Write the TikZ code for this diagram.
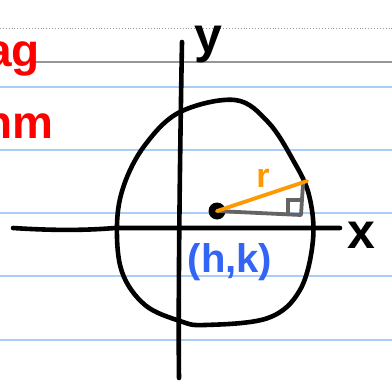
\documentclass[tikz,border=0pt]{standalone}
\usepackage{fontspec}
\setmainfont{Liberation Sans}
\begin{document}
\begin{tikzpicture}[x=1pt,y=-1pt,
  ink/.style={line width=4.6pt,line cap=round,line join=round,black},
  ruleblue/.style={line width=1.2pt,color={rgb,255:red,170;green,205;blue,245}},
  rulegray/.style={line width=1.3pt,color={rgb,255:red,150;green,150;blue,150}},
  dotgray/.style={line width=0.9pt,dotted,color={rgb,255:red,150;green,150;blue,150}},
  hand/.style={inner sep=0pt,font=\bfseries\fontsize{44}{44}\selectfont}]
\useasboundingbox (0,0) rectangle (392,392);
\clip (0,0) rectangle (392,392);
\fill[white] (0,0) rectangle (392,392);
% ruled paper
\draw[dotgray] (0,28) -- (392,28);
\draw[rulegray] (30,62) -- (392,62);
\foreach \yy in {87,150,213,276,340} \draw[ruleblue] (0,\yy) -- (392,\yy);
% red margin text
\node[hand,red,anchor=base west,font=\bfseries\fontsize{46}{46}\selectfont] (ag) at (-14,66) {ag};
\node[hand,red,anchor=base west,font=\bfseries\fontsize{46}{46}\selectfont] (hm) at (-16,138) {hm};
% axes
\coordinate (yt) at (182,42);
\coordinate (yb) at (179,378);
\coordinate (xl) at (13,228);
\coordinate (xr) at (340,228);
\draw[ink] (yt) .. controls (180,150) and (178,300) .. (yb);
\draw[ink] (xl) .. controls (60,231) and (90,230) .. (115,228) -- (xr);
\node[hand,font=\bfseries\fontsize{50}{50}\selectfont] (ylab) at (208,44) {y};
\node[hand,font=\bfseries\fontsize{50}{50}\selectfont] (xlab) at (361,235) {x};
% circle
\draw[ink] plot[smooth cycle,tension=0.6] coordinates {
 (235,100) (180,112) (145,145) (124,185) (117,225) (122,272) (145,305) (180,321)
 (205,325) (268,318) (300,290) (313,240) (309,195) (293,160) (268,122)};
% center
\node[circle,fill=black,minimum size=17pt,inner sep=0pt] (c) at (217,211) {};
\coordinate (p) at (307,181);
\coordinate (q) at (301,215);
\draw[line width=3.8pt,line cap=round,line join=round,color={rgb,255:red,100;green,100;blue,100}] (c.center) -- (q) -- (303,184);
\draw[line width=3.4pt,color={rgb,255:red,100;green,100;blue,100}] (288,213) -- (288,200) -- (301,200);
\draw[line width=3.8pt,line cap=round,color={rgb,255:red,255;green,153;blue,0}] (c.center) -- (p);
\node[hand,anchor=base,color={rgb,255:red,255;green,153;blue,0},font=\bfseries\fontsize{34}{34}\selectfont] (r) at (263,187) {r};
\node[hand,color={rgb,255:red,50;green,100;blue,245},font=\bfseries\fontsize{40}{40}\selectfont] (hk) at (230,262) {(h,k)};
\end{tikzpicture}
\end{document}
